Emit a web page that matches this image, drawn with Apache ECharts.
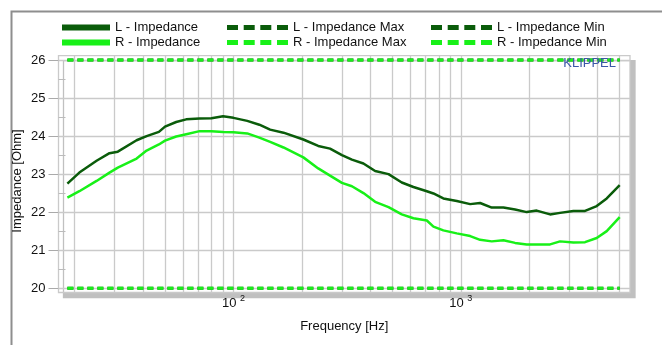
<!DOCTYPE html>
<html><head><meta charset="utf-8">
<script src="https://cdn.jsdelivr.net/npm/echarts@6/dist/echarts.min.js"></script>
<style>html,body{margin:0;padding:0;background:#fff}#c{width:662px;height:345px}</style>
</head><body><div id="c"></div>
<script>
const freqs = [18.6, 21, 25, 28.5, 31, 37.5, 41.5, 47, 50, 56, 62, 71, 80, 90, 100, 115, 130, 145, 166, 203, 236, 266, 300, 332, 373, 420, 481, 550, 619, 709, 758, 838, 960, 1100, 1216, 1368, 1540, 1733, 1950, 2158, 2470, 2733, 3128, 3520, 3963, 4385, 5000];
const leftImp = [22.75, 23.04, 23.35, 23.55, 23.59, 23.89, 24.00, 24.11, 24.25, 24.37, 24.44, 24.46, 24.47, 24.52, 24.48, 24.40, 24.30, 24.17, 24.09, 23.91, 23.74, 23.67, 23.50, 23.38, 23.28, 23.08, 23.00, 22.78, 22.66, 22.55, 22.49, 22.36, 22.29, 22.21, 22.24, 22.12, 22.12, 22.07, 22.00, 22.04, 21.94, 21.98, 22.03, 22.03, 22.16, 22.36, 22.71];
const rightImp = [22.38, 22.55, 22.82, 23.04, 23.17, 23.41, 23.62, 23.78, 23.88, 23.99, 24.05, 24.13, 24.13, 24.11, 24.10, 24.07, 23.96, 23.85, 23.70, 23.44, 23.15, 22.96, 22.77, 22.68, 22.50, 22.27, 22.13, 21.94, 21.84, 21.78, 21.62, 21.52, 21.44, 21.37, 21.27, 21.23, 21.26, 21.19, 21.15, 21.15, 21.15, 21.23, 21.20, 21.21, 21.32, 21.50, 21.87];
const limitFreqs = [18.6, 5000];
const maxLimit = [26, 26];
const minLimit = [20, 20];
const yTicks = [20, 21, 22, 23, 24, 25, 26];
const yMinorTicks = [20.5, 21.5, 22.5, 23.5, 24.5, 25.5];
const xGridFreqs = [20, 30, 40, 50, 60, 70, 80, 90, 100, 200, 300, 400, 500, 600, 700, 800, 900, 1000, 2000, 3000, 4000, 5000];
const names = ['L - Impedance', 'R - Impedance', 'L - Impedance Max', 'L - Impedance Min', 'R - Impedance Max', 'R - Impedance Min'];

const DARK = '#0a5c0a', BRIGHT = '#18f018', GRIDC = '#cacaca';
const FONT = 'Liberation Sans, Arial, sans-serif';
const pairs = (xs, ys) => xs.map((x, i) => [x, ys[i]]);
const dashIcon = 'path://M0,0h11v5h-11z M16.7,0h11v5h-11z M33.3,0h11v5h-11z M50,0h11v5h-11z';

const chart = echarts.init(document.getElementById('c'));
const gridLines = {
  silent: true, symbol: 'none', z: 1, animation: false,
  label: {show: false},
  lineStyle: {color: GRIDC, width: 1.3, type: 'solid'},
  emphasis: {disabled: true},
  data: xGridFreqs.map(f => ({xAxis: f})).concat(yTicks.map(v => ({yAxis: v})))
};
function lineSeries(name, xs, ys, color, dashed, extra) {
  return Object.assign({
    name, type: 'line', data: pairs(xs, ys), showSymbol: false, symbol: 'none',
    smooth: false, animation: false, z: 3,
    lineStyle: {color, width: dashed ? 3 : 2.5, type: dashed ? [6, 4] : 'solid'},
    itemStyle: {color}
  }, extra || {});
}
const legendBase = {orient: 'vertical', top: 16, itemGap: 2, textStyle: {fontFamily: FONT, fontSize: 13, color: '#111'}, selectedMode: false, itemWidth: 48, itemHeight: 6};
chart.setOption({
  animation: false,
  textStyle: {fontFamily: FONT},
  grid: {left: 58.5, top: 55.7, right: 32, bottom: 52.5, show: true, backgroundColor: '#fff', borderColor: GRIDC, borderWidth: 1.3,
    shadowColor: '#c0c0c0', shadowOffsetX: 5, shadowOffsetY: 5, shadowBlur: 0},
  legend: [
    Object.assign({}, legendBase, {left: 57, data: [{name: names[0], icon: 'rect'}, {name: names[1], icon: 'rect'}]}),
    Object.assign({}, legendBase, {left: 222, itemWidth: 61, itemHeight: 5, data: [{name: names[2], icon: dashIcon}, {name: names[4], icon: dashIcon}]}),
    Object.assign({}, legendBase, {left: 426, itemWidth: 61, itemHeight: 5, data: [{name: names[3], icon: dashIcon}, {name: names[5], icon: dashIcon}]})
  ],
  xAxis: {
    type: 'log', logBase: 10, min: 17, max: 5550,
    name: 'Frequency [Hz]', nameLocation: 'middle', nameGap: 27,
    nameTextStyle: {fontSize: 13, color: '#111', fontFamily: FONT},
    axisLine: {show: false}, axisTick: {show: false}, splitLine: {show: false}, minorSplitLine: {show: false},
    axisLabel: {
      margin: 2, color: '#111', fontSize: 13, showMinLabel: false, showMaxLabel: false, hideOverlap: false,
      formatter: v => {
        const e = Math.log10(v);
        if (Math.abs(e - Math.round(e)) > 1e-6) return '';
        return '{b|10 }{s|' + Math.round(e) + '}';
      },
      rich: {b: {fontSize: 13, color: '#111', fontFamily: FONT}, s: {fontSize: 9, color: '#111', fontFamily: FONT, padding: [0, 0, 8, 0]}}
    }
  },
  yAxis: [{
    type: 'value', min: 19.885, max: 26.115,
    axisLine: {show: false}, splitLine: {show: false},
    axisTick: {show: true, length: 10, customValues: yTicks, lineStyle: {color: '#aaa'}},
    axisLabel: {customValues: yTicks, color: '#111', fontSize: 13, margin: 13}
  }, {
    type: 'value', min: 19.885, max: 26.115, position: 'left', offset: 0,
    axisLine: {show: false}, splitLine: {show: false}, axisLabel: {show: false},
    axisTick: {show: true, inside: true, length: 7, customValues: yMinorTicks, lineStyle: {color: '#bbb'}}
  }],
  graphic: [
    {type: 'rect', left: 9, top: 9, shape: {width: 720, height: 400}, style: {fill: 'none', stroke: '#8e8e8e', lineWidth: 2}, silent: true, z: -10},
    {type: 'text', x: 17.5, y: 181, rotation: Math.PI / 2, style: {text: 'Impedance [Ohm]', fontSize: 13, fontFamily: FONT, fill: '#111', align: 'center', verticalAlign: 'middle'}},
    {type: 'text', x: 616, y: 63, style: {text: 'KLIPPEL', fontSize: 13, fontFamily: FONT, fill: '#3b57a8', align: 'right', verticalAlign: 'middle'}, z: 10}
  ],
  series: [
    lineSeries(names[0], freqs, leftImp, DARK, false, {markLine: gridLines}),
    lineSeries(names[1], freqs, rightImp, BRIGHT, false),
    lineSeries(names[2], limitFreqs, maxLimit, DARK, true),
    lineSeries(names[3], limitFreqs, minLimit, DARK, true),
    lineSeries(names[4], limitFreqs, maxLimit, BRIGHT, true),
    lineSeries(names[5], limitFreqs, minLimit, BRIGHT, true)
  ]
});
</script></body></html>
